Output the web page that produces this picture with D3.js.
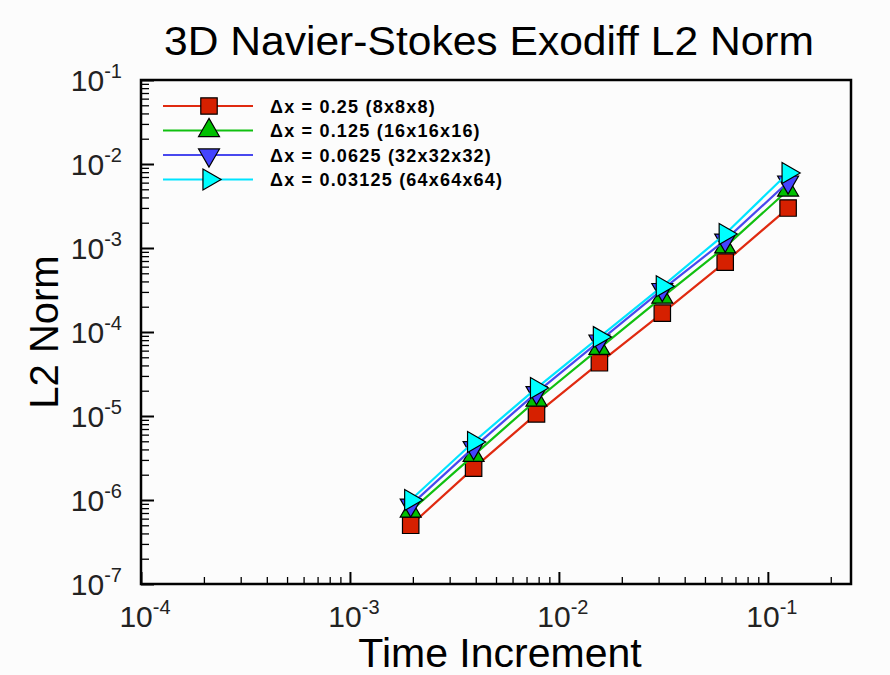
<!DOCTYPE html>
<html>
<head>
<meta charset="utf-8">
<script src="https://cdn.jsdelivr.net/npm/d3@7"></script>
<style>
body { margin: 0; background: #fcfcfc; }
text { font-family: "Liberation Sans", Arial, Helvetica, sans-serif; }
</style>
</head>
<body>
<div id="chart"></div>
<script>
// time increments (x) and L2 norms for each mesh
var timeSteps = [0.001953125, 0.00390625, 0.0078125, 0.015625, 0.03125, 0.0625, 0.125];
var normDx025 = [5.0e-7, 2.4e-6, 1.06e-5, 4.3e-5, 1.68e-4, 6.8e-4, 2.99e-3];
var normDx0125 = [7.4e-7, 3.4e-6, 1.55e-5, 6.4e-5, 2.6e-4, 1.03e-3, 4.9e-3];
var normDx00625 = [8.7e-7, 4.2e-6, 1.9e-5, 7.8e-5, 3.2e-4, 1.24e-3, 6.1e-3];
var normDx003125 = [1.0e-6, 4.9e-6, 2.15e-5, 8.7e-5, 3.5e-4, 1.47e-3, 7.8e-3];
var seriesLabels = ["\u0394x = 0.25 (8x8x8)", "\u0394x = 0.125 (16x16x16)",
    "\u0394x = 0.0625 (32x32x32)", "\u0394x = 0.03125 (64x64x64)"];
var xExponents = [-4, -3, -2, -1];
var yExponents = [-7, -6, -5, -4, -3, -2, -1];

var series = [
    {name: seriesLabels[0], values: normDx025, line: "#e02a10", fill: "#d62000", symbol: d3.symbolSquare, size: 270, rot: 0},
    {name: seriesLabels[1], values: normDx0125, line: "#10c010", fill: "#00c000", symbol: d3.symbolTriangle, size: 190, rot: 0},
    {name: seriesLabels[2], values: normDx00625, line: "#4848ee", fill: "#4444ff", symbol: d3.symbolTriangle, size: 190, rot: 180},
    {name: seriesLabels[3], values: normDx003125, line: "#00e4ff", fill: "#00ffff", symbol: d3.symbolTriangle, size: 190, rot: 90}
];

var W = 890, H = 675;
var pLeft = 141, pRight = 851, pTop = 80, pBottom = 584;

var svg = d3.select("#chart").append("svg")
    .attr("width", W)
    .attr("height", H);

svg.append("rect").attr("width", W).attr("height", H).attr("fill", "#fcfcfc");

var x = d3.scaleLog().domain([1e-4, 0.25]).range([pLeft, pRight]);
var y = d3.scaleLog().domain([1e-7, 1e-1]).range([pBottom, pTop]);

// tick positions: 1..9 x each decade
var xTicks = [], yTicks = [];
xExponents.forEach(function(e) {
    for (var k = 1; k <= 9; k++) {
        var v = k * Math.pow(10, e);
        if (v <= 0.25) xTicks.push(v);
    }
});
yExponents.forEach(function(e, i) {
    for (var k = 1; k <= 9; k++) {
        if (i == yExponents.length - 1 && k > 1) break;
        yTicks.push(k * Math.pow(10, e));
    }
});
function isMajor(v) {
    var l = Math.log10(v);
    return Math.abs(l - Math.round(l)) < 1e-6;
}

var xAxis = svg.append("g")
    .attr("transform", "translate(0," + pBottom + ")")
    .call(d3.axisBottom(x).tickValues(xTicks).tickFormat("").tickSizeOuter(0));
xAxis.selectAll(".tick line")
    .attr("y2", function(d) { return isMajor(d) ? -12 : -7; })
    .attr("stroke-width", function(d) { return isMajor(d) ? 2 : 1.3; });
var yAxis = svg.append("g")
    .attr("transform", "translate(" + pLeft + ",0)")
    .call(d3.axisLeft(y).tickValues(yTicks).tickFormat("").tickSizeOuter(0));
yAxis.selectAll(".tick line")
    .attr("x2", function(d) { return isMajor(d) ? 13 : 8; })
    .attr("stroke-width", function(d) { return isMajor(d) ? 2 : 1.3; });
svg.selectAll(".domain").remove();

// frame
svg.append("rect")
    .attr("x", pLeft).attr("y", pTop)
    .attr("width", pRight - pLeft).attr("height", pBottom - pTop)
    .attr("fill", "none").attr("stroke", "#000").attr("stroke-width", 2.5);

// tick labels
xExponents.forEach(function(e) {
    var t = svg.append("text")
        .attr("x", x(Math.pow(10, e)) + 4)
        .attr("y", 627)
        .attr("text-anchor", "middle")
        .attr("font-size", 30)
        .attr("fill", "#222");
    t.append("tspan").text("10");
    t.append("tspan").attr("dy", -13).attr("font-size", 20).text(e);
});
yExponents.forEach(function(e) {
    var t = svg.append("text")
        .attr("x", 122)
        .attr("y", y(Math.pow(10, e)) + 11)
        .attr("text-anchor", "end")
        .attr("font-size", 30)
        .attr("fill", "#222");
    t.append("tspan").text("10");
    t.append("tspan").attr("dy", -13).attr("font-size", 20).text(e);
});

// titles
svg.append("text")
    .attr("x", 489).attr("y", 55)
    .attr("text-anchor", "middle")
    .attr("font-size", 41)
    .attr("textLength", 650)
    .attr("lengthAdjust", "spacingAndGlyphs")
    .text("3D Navier-Stokes Exodiff L2 Norm");
svg.append("text")
    .attr("x", 500).attr("y", 667)
    .attr("text-anchor", "middle")
    .attr("font-size", 41)
    .text("Time Increment");
svg.append("text")
    .attr("transform", "translate(58,332) rotate(-90)")
    .attr("text-anchor", "middle")
    .attr("font-size", 40)
    .text("L2 Norm");

var line = d3.line()
    .x(function(d, i) { return x(timeSteps[i]); })
    .y(function(d) { return y(d); });

// series
series.forEach(function(s) {
    var g = svg.append("g");
    g.append("path")
        .attr("d", line(s.values))
        .attr("fill", "none")
        .attr("stroke", s.line)
        .attr("stroke-width", 2.2);
    g.selectAll("path.mk")
        .data(s.values)
        .enter().append("path")
        .attr("class", "mk")
        .attr("d", d3.symbol().type(s.symbol).size(s.size))
        .attr("transform", function(d, i) {
            return "translate(" + x(timeSteps[i]) + "," + y(d) + ") rotate(" + s.rot + ")";
        })
        .attr("fill", s.fill)
        .attr("stroke", "#000")
        .attr("stroke-width", 1.2);
});

// legend
var legend = svg.append("g");
series.forEach(function(s, i) {
    var ly = 106 + i * 24.5;
    legend.append("line")
        .attr("x1", 163).attr("x2", 253)
        .attr("y1", ly).attr("y2", ly)
        .attr("stroke", s.line).attr("stroke-width", 2.2);
    legend.append("path")
        .attr("d", d3.symbol().type(s.symbol).size(s.size))
        .attr("transform", "translate(209," + ly + ") rotate(" + s.rot + ")")
        .attr("fill", s.fill)
        .attr("stroke", "#000")
        .attr("stroke-width", 1.2);
    legend.append("text")
        .attr("x", 270).attr("y", ly + 6.5)
        .attr("font-size", 18)
        .attr("font-weight", "bold")
        .attr("letter-spacing", 1.2)
        .text(s.name);
});
</script>
</body>
</html>
